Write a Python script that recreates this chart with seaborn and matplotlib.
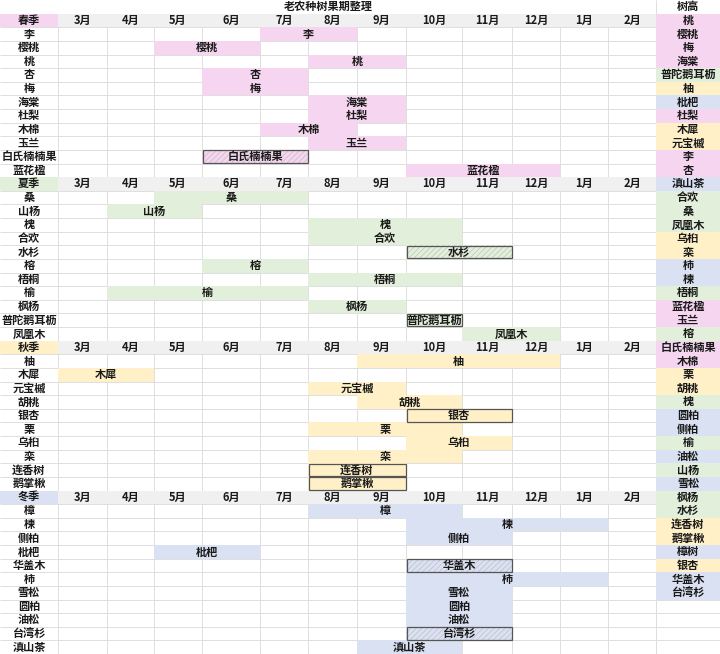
import matplotlib
matplotlib.use('Agg')
import matplotlib.pyplot as plt
import seaborn as sns

# 老农种树果期整理 —— 每个季节一段，横条表示果期（起止月份）
title = '老农种树果期整理'
months = ['3月', '4月', '5月', '6月', '7月', '8月', '9月', '10月', '11月', '12月', '1月', '2月']

spring_trees = ['李', '樱桃', '桃', '杏', '梅', '海棠', '杜梨', '木棉', '玉兰', '白氏楠楠果', '蓝花楹']
spring_start = ['7月', '5月', '8月', '6月', '6月', '8月', '8月', '7月', '8月', '6月', '10月']
spring_end = ['8月', '6月', '9月', '7月', '7月', '9月', '9月', '8月', '9月', '7月', '12月']
spring_mark = ['', '', '', '', '', '', '', '', '', 'hatch', '']

summer_trees = ['桑', '山杨', '槐', '合欢', '水杉', '榕', '梧桐', '榆', '枫杨', '普陀鹅耳枥', '凤凰木']
summer_start = ['5月', '4月', '8月', '8月', '10月', '6月', '8月', '4月', '8月', '10月', '11月']
summer_end = ['7月', '5月', '10月', '10月', '11月', '7月', '10月', '7月', '9月', '10月', '12月']
summer_mark = ['', '', '', '', 'hatch', '', '', '', '', 'box', '']

autumn_trees = ['柚', '木犀', '元宝槭', '胡桃', '银杏', '栗', '乌桕', '栾', '连香树', '鹅掌楸']
autumn_start = ['9月', '3月', '8月', '9月', '10月', '8月', '10月', '8月', '8月', '8月']
autumn_end = ['12月', '4月', '9月', '10月', '11月', '10月', '11月', '10月', '9月', '9月']
autumn_mark = ['', '', '', '', 'box', '', '', '', 'box', 'box']

winter_trees = ['樟', '楝', '侧柏', '枇杷', '华盖木', '柿', '雪松', '圆柏', '油松', '台湾杉', '滇山茶']
winter_start = ['8月', '10月', '10月', '5月', '10月', '10月', '10月', '10月', '10月', '10月', '9月']
winter_end = ['10月', '1月', '11月', '6月', '11月', '1月', '11月', '11月', '11月', '11月', '10月']
winter_mark = ['', '', '', '', 'hatch', '', '', '', '', 'hatch', '']

# 右侧：按树高排列
height_trees = ['桃', '樱桃', '梅', '海棠', '普陀鹅耳枥', '柚', '枇杷', '杜梨', '木犀', '元宝槭', '李', '杏',
                '滇山茶', '合欢', '桑', '凤凰木', '乌桕', '栾', '柿', '楝', '梧桐', '蓝花楹', '玉兰', '榕',
                '白氏楠楠果', '木棉', '栗', '胡桃', '槐', '圆柏', '侧柏', '榆', '油松', '山杨', '雪松',
                '枫杨', '水杉', '连香树', '鹅掌楸', '樟树', '银杏', '华盖木', '台湾杉']
height_season = ['春', '春', '春', '春', '夏', '秋', '冬', '春', '秋', '秋', '春', '春',
                 '冬', '夏', '夏', '夏', '秋', '秋', '冬', '冬', '夏', '春', '春', '夏',
                 '春', '春', '秋', '秋', '夏', '冬', '冬', '夏', '冬', '夏', '冬',
                 '夏', '夏', '秋', '秋', '冬', '秋', '冬', '冬']

season_color = {'春': '#f5d5ef', '夏': '#e2efda', '秋': '#fff0c8', '冬': '#d9e1f2'}
header_gray = '#f0f0f0'
grid_color = '#dedede'

# 表格列边界（像素单位），标签列 0-58，右侧树高列 656-720
col_edges = [58, 107, 154, 202, 260, 308, 357, 406, 462, 512, 560, 608, 656]
W, N_ROWS = 720, 48

sns.set_theme(style='white')
plt.rcParams['font.family'] = ['Noto Sans CJK SC', 'DejaVu Sans']
plt.rcParams['hatch.linewidth'] = 0.4

fig = plt.figure(figsize=(7.2, 6.54), dpi=100)
ax = fig.add_axes([0, 0, 1, 1])
ax.set_xlim(0, W)
ax.set_ylim(N_ROWS, 0)
ax.axis('off')

txt = dict(ha='center', va='center', fontsize=8, fontweight='bold', color='#1a1a1a', zorder=5)

# 网格线
ax.hlines(range(1, N_ROWS + 1), 0, W, color=grid_color, lw=0.7, zorder=0)
ax.vlines(col_edges, 1, N_ROWS, color=grid_color, lw=0.7, zorder=0)
ax.vlines([656], 0, N_ROWS, color=grid_color, lw=0.7, zorder=0)

ax.text(328, 0.5, title, **txt)


def draw_section(row0, label, trees, start, end, mark, color):
    ax.barh(row0, 58, left=0, height=1, align='edge', color=color, lw=0, zorder=1)
    ax.barh(row0, col_edges[-1] - col_edges[0], left=col_edges[0], height=1,
            align='edge', color=header_gray, lw=0, zorder=1)
    ax.text(29, row0 + 0.5, label, **txt)
    for j, m in enumerate(months):
        ax.text((col_edges[j] + col_edges[j + 1]) / 2, row0 + 0.5, m, **txt)
    for i, name in enumerate(trees):
        r = row0 + 1 + i
        a, b = months.index(start[i]), months.index(end[i])
        x0, x1 = col_edges[a], col_edges[b + 1]
        if mark[i] == 'hatch':
            ax.barh(r, x1 - x0, left=x0, height=1, align='edge', color=color,
                    hatch='//////', edgecolor='#b8b8b8', lw=0, zorder=1)
        else:
            ax.barh(r, x1 - x0, left=x0, height=1, align='edge', color=color, lw=0, zorder=1)
        if mark[i]:
            ax.barh(r + 0.04, x1 - x0 - 1, left=x0 + 0.5, height=0.92, align='edge', fill=False,
                    edgecolor='#555555', lw=0.9, zorder=2)
        ax.text(29, r + 0.5, name, **txt)
        ax.text((x0 + x1) / 2, r + 0.5, name, **txt)
    return row0 + len(trees) + 1


row = 1
row = draw_section(row, '春季', spring_trees, spring_start, spring_end, spring_mark, season_color['春'])
row = draw_section(row, '夏季', summer_trees, summer_start, summer_end, summer_mark, season_color['夏'])
row = draw_section(row, '秋季', autumn_trees, autumn_start, autumn_end, autumn_mark, season_color['秋'])
row = draw_section(row, '冬季', winter_trees, winter_start, winter_end, winter_mark, season_color['冬'])

# 右侧树高列
ax.text(688, 0.5, '树高', **txt)
for i, (name, s) in enumerate(zip(height_trees, height_season)):
    ax.barh(1 + i, W - 656, left=656, height=1, align='edge', color=season_color[s], lw=0, zorder=1)
    ax.text(688, 1.5 + i, name, **txt)

fig.savefig('out.png', dpi=100)
